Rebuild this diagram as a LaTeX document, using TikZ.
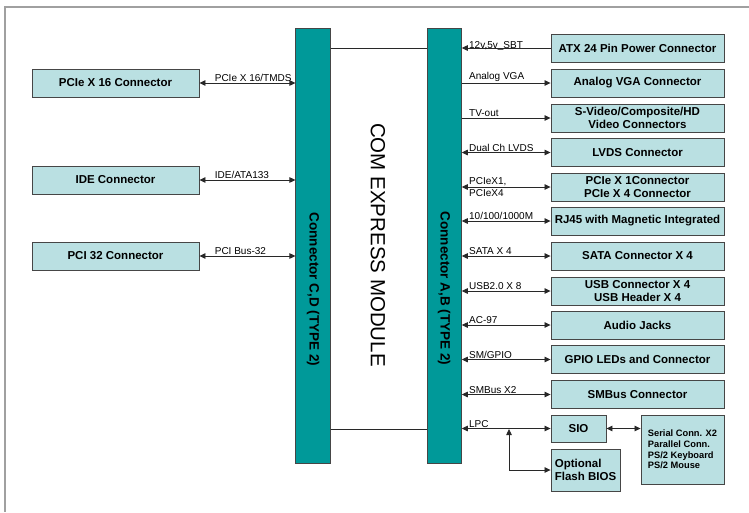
\documentclass[tikz,border=0pt]{standalone}
\usepackage{fontspec}
\setmainfont{Liberation Sans}
\usetikzlibrary{arrows.meta,calc}
\definecolor{tealbar}{RGB}{0,153,153}
\definecolor{boxfill}{RGB}{186,224,226}
\definecolor{boxline}{RGB}{70,70,70}
\definecolor{wire}{RGB}{40,40,40}
\definecolor{framec}{RGB}{160,160,160}
\begin{document}
\begin{tikzpicture}[x=1pt,y=-1pt,
  box/.style={draw=boxline,fill=boxfill,line width=0.9pt,inner sep=0pt,align=center,
    font=\fontsize{11.5}{13}\selectfont\bfseries},
  rbox/.style={box,minimum width=173pt,minimum height=28pt},
  lbox/.style={box,minimum width=167pt,minimum height=28pt},
  bar/.style={draw=boxline,fill=tealbar,line width=0.6pt,minimum width=34.5pt,minimum height=435pt,inner sep=0pt},
  bartxt/.style={rotate=-90,font=\fontsize{13.5}{15}\selectfont\bfseries},
  lbl/.style={font=\fontsize{10}{12}\selectfont,inner sep=1pt,anchor=south west},
  wireline/.style={draw=wire,line width=0.8pt},
  tip/.tip={Triangle[length=6pt,width=5.5pt]},
  biarrow/.style={wireline,tip-tip},
  toarrow/.style={wireline,-tip}
]
\useasboundingbox (0,0) rectangle (749,512);
\fill[white] (0,0) rectangle (749,512);
% frame
\draw[framec,line width=1.2pt] (749,7) -- (5,7) -- (5,512);

% bars
\node[bar] (barL) at (313,245.5) {};
\node[bar] (barR) at (444.2,245.5) {};
\node[bartxt] (barLtxt) at (313,289.5) {Connector C,D (TYPE 2)};
\node[bartxt] (barRtxt) at (444.2,288.5) {Connector A,B (TYPE 2)};
\node[rotate=-90,font=\fontsize{20.5}{22}\selectfont] (module) at (378,245) {COM EXPRESS MODULE};
\coordinate (tl) at (330,48);
\coordinate (bl) at (330,429);
\draw[wireline] (barL.east |- tl) -- (barR.west |- tl);
\draw[wireline] (barL.east |- bl) -- (barR.west |- bl);

% left boxes
\node[lbox] (pcie16) at (115.5,83) {PCIe X 16 Connector};
\node[lbox] (ide) at (115.5,180) {IDE Connector};
\node[lbox] (pci32) at (115.5,256) {PCI 32 Connector};
\draw[biarrow] (pcie16.east) -- node[lbl,pos=0,xshift=14pt] {PCIe X 16/TMDS} (barL.west |- pcie16.east);
\draw[biarrow] (ide.east) -- node[lbl,pos=0,xshift=14pt] {IDE/ATA133} (barL.west |- ide.east);
\draw[biarrow] (pci32.east) -- node[lbl,pos=0,xshift=14pt] {PCI Bus-32} (barL.west |- pci32.east);

% right boxes
\node[rbox] (atx) at (637.5,48) {ATX 24 Pin Power Connector};
\node[rbox] (vga) at (637.5,83) {Analog VGA Connector};
\node[rbox] (svid) at (637.5,118) {S-Video/Composite/HD\\Video Connectors};
\node[rbox] (lvds) at (637.5,152.5) {LVDS Connector};
\node[rbox] (pcie1) at (637.5,187) {PCIe X 1Connector\\PCIe X 4 Connector};
\node[rbox] (rj45) at (637.5,221) {RJ45 with Magnetic Integrated};
\node[rbox] (sata) at (637.5,256) {SATA Connector X 4};
\node[rbox] (usb) at (637.5,291) {USB Connector X 4\\USB Header X 4};
\node[rbox] (audio) at (637.5,325) {Audio Jacks};
\node[rbox] (gpio) at (637.5,359.5) {GPIO LEDs and Connector};
\node[rbox] (smbus) at (637.5,394.5) {SMBus Connector};
\node[box,minimum width=55pt,minimum height=27pt] (sio) at (578.5,428.5) {SIO};
\node[box,minimum width=69pt,minimum height=42pt,align=left] (flash) at (585.5,470) {Optional\\Flash BIOS};
\node[box,minimum width=83pt,minimum height=69pt,align=left,font=\fontsize{9.3}{10.6}\selectfont\bfseries] (serial) at (682.5,449.5) {Serial Conn. X2\\Parallel Conn.\\PS/2 Keyboard\\PS/2 Mouse};

\draw[toarrow] (atx.west) -- node[lbl,pos=1,xshift=6pt,yshift=-4pt] {12v,5v\_SBT} (barR.east |- atx.west);
\draw[toarrow] (barR.east |- vga.west) -- node[lbl,pos=0,xshift=6pt] {Analog VGA} (vga.west);
\draw[toarrow] (barR.east |- svid.west) -- node[lbl,pos=0,xshift=6pt] {TV-out} (svid.west);
\draw[biarrow] (barR.east |- lvds.west) -- node[lbl,pos=0,xshift=6pt] {Dual Ch LVDS} (lvds.west);
\draw[biarrow] (barR.east |- pcie1.west) -- node[lbl,pos=0,xshift=6pt,anchor=west,align=left,font=\fontsize{10}{12}\selectfont] {PCIeX1,\\PCIeX4} (pcie1.west);
\draw[biarrow] (barR.east |- rj45.west) -- node[lbl,pos=0,xshift=6pt] {10/100/1000M} (rj45.west);
\draw[biarrow] (barR.east |- sata.west) -- node[lbl,pos=0,xshift=6pt] {SATA X 4} (sata.west);
\draw[biarrow] (barR.east |- usb.west) -- node[lbl,pos=0,xshift=6pt] {USB2.0 X 8} (usb.west);
\draw[biarrow] (barR.east |- audio.west) -- node[lbl,pos=0,xshift=6pt] {AC-97} (audio.west);
\draw[biarrow] (barR.east |- gpio.west) -- node[lbl,pos=0,xshift=6pt] {SM/GPIO} (gpio.west);
\draw[biarrow] (barR.east |- smbus.west) -- node[lbl,pos=0,xshift=6pt] {SMBus X2} (smbus.west);
\draw[biarrow] (barR.east |- sio.west) -- node[lbl,pos=0,xshift=6pt] {LPC} (sio.west);
\coordinate (junc) at (509,429);
\draw[biarrow] (flash.west) -| (junc);
\draw[biarrow] (sio.east) -- (serial.west |- sio.east);
\end{tikzpicture}
\end{document}
